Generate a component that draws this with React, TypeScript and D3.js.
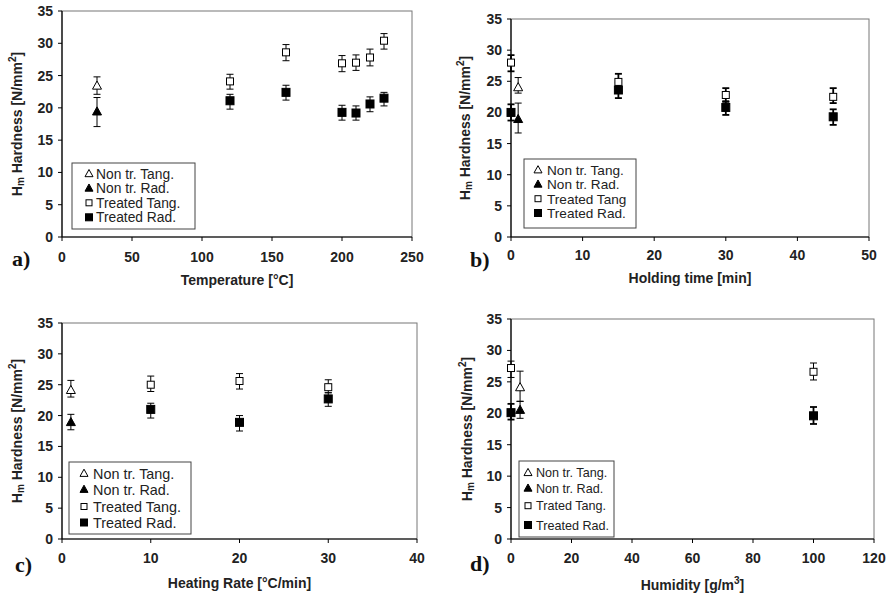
import React from "react";
import * as d3 from "d3";

// ---------- DATA ----------
// Panel a: temperature
const aNonX = [25];
const aNonTang = [23.4];
const aNonTangLo = [22.1];
const aNonTangHi = [24.8];
const aNonRad = [19.4];
const aNonRadLo = [17.1];
const aNonRadHi = [21.6];
const aTrX = [120, 160, 200, 210, 220, 230];
const aTrTang = [24.1, 28.6, 26.9, 27.0, 27.8, 30.4];
const aTrTangLo = [22.9, 27.3, 25.6, 25.8, 26.5, 29.1];
const aTrTangHi = [25.2, 29.8, 28.1, 28.2, 29.1, 31.5];
const aTrRad = [21.1, 22.4, 19.3, 19.2, 20.6, 21.5];
const aTrRadLo = [19.8, 21.2, 18.1, 18.1, 19.4, 20.3];
const aTrRadHi = [22.1, 23.5, 20.4, 20.3, 21.7, 22.4];

// Panel b: holding time
const bNonX = [1];
const bNonTang = [24.0];
const bNonTangLo = [23.1];
const bNonTangHi = [25.6];
const bNonRad = [18.9];
const bNonRadLo = [16.7];
const bNonRadHi = [21.5];
const bTrX = [0, 15, 30, 45];
const bTrTang = [28.0, 24.9, 22.8, 22.5];
const bTrTangLo = [26.6, 23.5, 21.7, 21.5];
const bTrTangHi = [29.2, 26.2, 23.9, 23.9];
const bTrRad = [20.0, 23.6, 20.8, 19.3];
const bTrRadLo = [18.7, 22.3, 19.6, 18.0];
const bTrRadHi = [21.3, 24.8, 21.8, 20.5];

// Panel c: heating rate
const cNonX = [1];
const cNonTang = [24.1];
const cNonTangLo = [23.0];
const cNonTangHi = [25.7];
const cNonRad = [18.9];
const cNonRadLo = [17.7];
const cNonRadHi = [20.2];
const cTrX = [10, 20, 30];
const cTrTang = [25.0, 25.6, 24.6];
const cTrTangLo = [23.9, 24.3, 23.7];
const cTrTangHi = [26.4, 26.8, 25.8];
const cTrRad = [21.0, 18.9, 22.7];
const cTrRadLo = [19.6, 17.5, 21.5];
const cTrRadHi = [22.0, 20.0, 23.7];

// Panel d: humidity
const dNonX = [3];
const dNonTang = [24.1];
const dNonTangLo = [21.9];
const dNonTangHi = [26.7];
const dNonRad = [20.5];
const dNonRadLo = [19.2];
const dNonRadHi = [21.9];
const dTrX = [0, 100];
const dTrTang = [27.2, 26.6];
const dTrTangLo = [25.7, 25.3];
const dTrTangHi = [28.3, 28.0];
const dTrRad = [20.1, 19.6];
const dTrRadLo = [19.0, 18.3];
const dTrRadHi = [21.5, 21.0];

const yTicks = [0, 5, 10, 15, 20, 25, 30, 35];
const aXTicks = [0, 50, 100, 150, 200, 250];
const bXTicks = [0, 10, 20, 30, 40, 50];
const cXTicks = [0, 10, 20, 30, 40];
const dXTicks = [0, 20, 40, 60, 80, 100, 120];

const legendA = ["Non tr. Tang.", "Non tr. Rad.", "Treated Tang.", "Treated Rad."];
const legendB = ["Non tr. Tang.", "Non tr. Rad.", "Treated Tang", "Treated Rad."];
const legendC = ["Non tr. Tang.", "Non tr. Rad.", "Treated Tang.", "Treated Rad."];
const legendD = ["Non tr. Tang.", "Non tr. Rad.", "Trated Tang.", "Treated Rad."];

const SANS = "'Liberation Sans', Arial, Helvetica, sans-serif";
const SERIF = "'Liberation Serif', 'Times New Roman', serif";

type Kind = "triOpen" | "triFill" | "sqOpen" | "sqFill";

function Marker({ kind, x, y, s }: { kind: Kind; x: number; y: number; s: number }) {
  if (kind === "triOpen" || kind === "triFill") {
    const h = s * 0.9;
    const pts = `${x},${y - h * 0.6} ${x - s / 2},${y + h * 0.4} ${x + s / 2},${y + h * 0.4}`;
    return (
      <polygon
        points={pts}
        fill={kind === "triFill" ? "#000" : "#fff"}
        stroke="#000"
        strokeWidth={1}
      />
    );
  }
  const w = kind === "sqFill" ? s : s - 1;
  return (
    <rect
      x={x - w / 2}
      y={y - w / 2}
      width={w}
      height={w}
      fill={kind === "sqFill" ? "#000" : "#fff"}
      stroke="#000"
      strokeWidth={1}
    />
  );
}

type Series = {
  kind: Kind;
  xs: number[];
  ys: number[];
  lo: number[];
  hi: number[];
  ew?: number;
};

type PanelProps = {
  left: number;
  right: number;
  top: number;
  bottom: number;
  xMax: number;
  xTicks: number[];
  xTitle: React.ReactNode;
  letter: string;
  letterX: number;
  letterY: number;
  xTickY: number;
  xTitleY: number;
  yTitleX: number;
  series: Series[];
  legend: string[];
  lg: { x: number; y: number; w: number; h: number; rows: number[]; mx: number; tx: number; fs: number };
};

function Panel(p: PanelProps) {
  const x = d3.scaleLinear().domain([0, p.xMax]).range([p.left, p.right]);
  const y = d3.scaleLinear().domain([0, 35]).range([p.bottom, p.top]);
  const kinds: Kind[] = ["triOpen", "triFill", "sqOpen", "sqFill"];
  const cy = (p.top + p.bottom) / 2;
  return (
    <g>
      <rect
        x={p.left}
        y={p.top}
        width={p.right - p.left}
        height={p.bottom - p.top}
        fill="none"
        stroke="#777"
        strokeWidth={1}
      />
      <line x1={p.left} x2={p.left} y1={p.top} y2={p.bottom} stroke="#000" strokeWidth={1.2} />
      <line x1={p.left} x2={p.right} y1={p.bottom} y2={p.bottom} stroke="#000" strokeWidth={1.2} />
      {yTicks.map((t) => (
        <g key={"y" + t}>
          <line x1={p.left - 4} x2={p.left} y1={y(t)} y2={y(t)} stroke="#000" />
          <text
            x={p.left - 9}
            y={y(t) + 5}
            textAnchor="end"
            fontFamily={SANS}
            fontWeight="bold"
            fontSize={14}
            fill="#222"
          >
            {t}
          </text>
        </g>
      ))}
      {p.xTicks.map((t) => (
        <g key={"x" + t}>
          <line x1={x(t)} x2={x(t)} y1={p.bottom} y2={p.bottom + 4} stroke="#000" />
          <text
            x={x(t)}
            y={p.xTickY}
            textAnchor="middle"
            fontFamily={SANS}
            fontWeight="bold"
            fontSize={14}
            fill="#222"
          >
            {t}
          </text>
        </g>
      ))}
      <text
        x={(p.left + p.right) / 2}
        y={p.xTitleY}
        textAnchor="middle"
        fontFamily={SANS}
        fontWeight="bold"
        fontSize={14}
        fill="#222"
      >
        {p.xTitle}
      </text>
      <text
        transform={`translate(${p.yTitleX},${cy}) rotate(-90)`}
        textAnchor="middle"
        fontFamily={SANS}
        fontWeight="bold"
        fontSize={14}
        fill="#222"
      >
        H<tspan fontSize={10} dy={2}>m</tspan>
        <tspan dy={-2}> Hardness [N/mm</tspan>
        <tspan fontSize={10} dy={-6}>2</tspan>
        <tspan dy={6}>]</tspan>
      </text>
      <text
        x={p.letterX}
        y={p.letterY}
        fontFamily={SERIF}
        fontWeight="bold"
        fontSize={22}
        fill="#111"
      >
        {p.letter}
      </text>
      {p.series.map((s, si) => (
        <g key={"s" + si}>
          {s.xs.map((xv, i) => (
            <g key={i} stroke="#000" strokeWidth={s.ew ?? 1}>
              <line x1={x(xv)} x2={x(xv)} y1={y(s.lo[i])} y2={y(s.hi[i])} />
              <line x1={x(xv) - 3.5} x2={x(xv) + 3.5} y1={y(s.lo[i])} y2={y(s.lo[i])} />
              <line x1={x(xv) - 3.5} x2={x(xv) + 3.5} y1={y(s.hi[i])} y2={y(s.hi[i])} />
            </g>
          ))}
        </g>
      ))}
      {p.series.map((s, si) => (
        <g key={"m" + si}>
          {s.xs.map((xv, i) => (
            <Marker key={i} kind={s.kind} x={x(xv)} y={y(s.ys[i])} s={s.kind.startsWith("tri") ? 9 : 8} />
          ))}
        </g>
      ))}
      <rect x={p.lg.x} y={p.lg.y} width={p.lg.w} height={p.lg.h} fill="#fff" stroke="#444" strokeWidth={1} />
      {p.legend.map((label, i) => {
        const ry = p.lg.rows[i];
        return (
          <g key={"l" + i}>
            <Marker kind={kinds[i]} x={p.lg.x + p.lg.mx} y={ry} s={kinds[i].startsWith("tri") ? 8 : 7} />
            <text
              x={p.lg.x + p.lg.tx}
              y={ry + p.lg.fs * 0.36}
              fontFamily={SANS}
              fontSize={p.lg.fs}
              fill="#222"
            >
              {label}
            </text>
          </g>
        );
      })}
    </g>
  );
}

function mk(
  nonX: number[], nt: number[], ntLo: number[], ntHi: number[],
  nr: number[], nrLo: number[], nrHi: number[],
  trX: number[], tt: number[], ttLo: number[], ttHi: number[],
  tr: number[], trLo: number[], trHi: number[], ewT = 1, ewR = 1
): Series[] {
  return [
    { kind: "triOpen", xs: nonX, ys: nt, lo: ntLo, hi: ntHi },
    { kind: "triFill", xs: nonX, ys: nr, lo: nrLo, hi: nrHi },
    { kind: "sqOpen", xs: trX, ys: tt, lo: ttLo, hi: ttHi, ew: ewT },
    { kind: "sqFill", xs: trX, ys: tr, lo: trLo, hi: trHi, ew: ewR },
  ];
}

export default function App() {
  return (
    <svg
      width={894}
      height={598}
      style={{ position: "absolute", left: 0, top: 0, background: "#fff" }}
    >
      <rect width={894} height={598} fill="#fff" />
      <Panel
        left={62}
        right={412}
        top={11}
        bottom={237}
        xMax={250}
        xTicks={aXTicks}
        xTitle="Temperature [°C]"
        letter="a)"
        letterX={12}
        letterY={266}
        xTickY={262}
        xTitleY={285}
        yTitleX={22}
        series={mk(aNonX, aNonTang, aNonTangLo, aNonTangHi, aNonRad, aNonRadLo, aNonRadHi,
          aTrX, aTrTang, aTrTangLo, aTrTangHi, aTrRad, aTrRadLo, aTrRadHi)}
        legend={legendA}
        lg={{ x: 72, y: 163, w: 123, h: 66, rows: [173.8, 188.3, 202.8, 217.3], mx: 17, tx: 24, fs: 13.8 }}
      />
      <Panel
        left={511}
        right={869}
        top={19}
        bottom={237}
        xMax={50}
        xTicks={bXTicks}
        xTitle="Holding time [min]"
        letter="b)"
        letterX={470}
        letterY={267}
        xTickY={260}
        xTitleY={283}
        yTitleX={470}
        series={mk(bNonX, bNonTang, bNonTangLo, bNonTangHi, bNonRad, bNonRadLo, bNonRadHi,
          bTrX, bTrTang, bTrTangLo, bTrTangHi, bTrRad, bTrRadLo, bTrRadHi, 1.8, 1.8)}
        legend={legendB}
        lg={{ x: 524, y: 159, w: 112, h: 69, rows: [170, 184.3, 198.7, 213], mx: 14, tx: 23, fs: 13.6 }}
      />
      <Panel
        left={62}
        right={417}
        top={323}
        bottom={539}
        xMax={40}
        xTicks={cXTicks}
        xTitle="Heating Rate [°C/min]"
        letter="c)"
        letterX={15}
        letterY={572}
        xTickY={563}
        xTitleY={588}
        yTitleX={22}
        series={mk(cNonX, cNonTang, cNonTangLo, cNonTangHi, cNonRad, cNonRadLo, cNonRadHi,
          cTrX, cTrTang, cTrTangLo, cTrTangHi, cTrRad, cTrRadLo, cTrRadHi)}
        legend={legendC}
        lg={{ x: 69, y: 462, w: 122, h: 72, rows: [473.5, 489.5, 506.5, 522.5], mx: 15, tx: 24, fs: 14.4 }}
      />
      <Panel
        left={511}
        right={874}
        top={319}
        bottom={539}
        xMax={120}
        xTicks={dXTicks}
        xTitle={
          <>
            Humidity [g/m<tspan fontSize={10} dy={-6}>3</tspan>
            <tspan dy={6}>]</tspan>
          </>
        }
        letter="d)"
        letterX={470}
        letterY={571}
        xTickY={563}
        xTitleY={590}
        yTitleX={472}
        series={mk(dNonX, dNonTang, dNonTangLo, dNonTangHi, dNonRad, dNonRadLo, dNonRadHi,
          dTrX, dTrTang, dTrTangLo, dTrTangHi, dTrRad, dTrRadLo, dTrRadHi, 1, 1.8)}
        legend={legendD}
        lg={{ x: 519, y: 461, w: 95, h: 76, rows: [472.7, 488.3, 505.7, 525], mx: 9, tx: 17, fs: 12.6 }}
      />
    </svg>
  );
}
